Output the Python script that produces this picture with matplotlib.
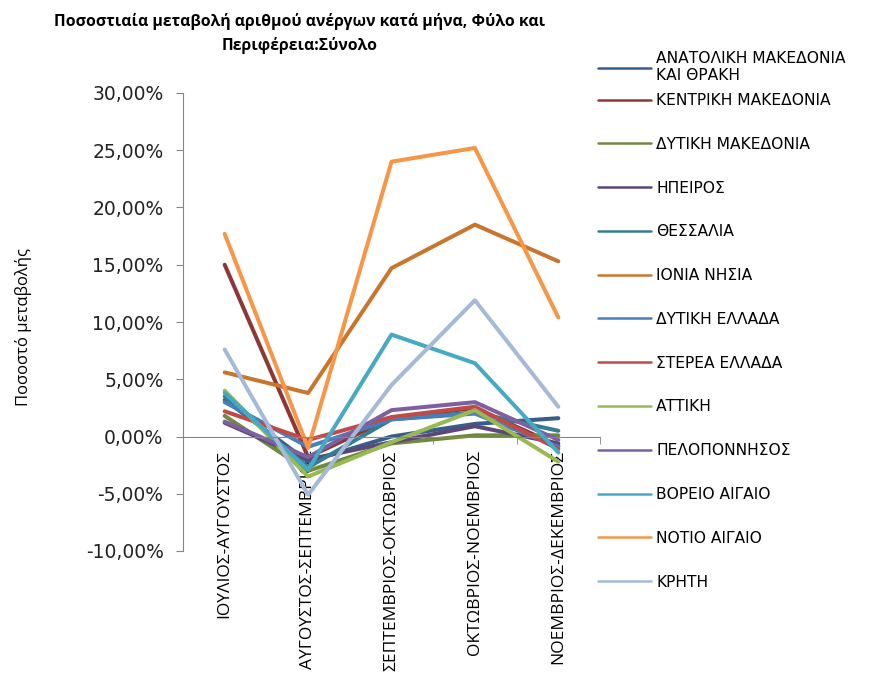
import matplotlib
matplotlib.use("Agg")
import matplotlib.pyplot as plt
from matplotlib.ticker import FuncFormatter, FixedLocator

categories = ["ΙΟΥΛΙΟΣ-ΑΥΓΟΥΣΤΟΣ", "ΑΥΓΟΥΣΤΟΣ-ΣΕΠΤΕΜΒΡΙΟΣ", "ΣΕΠΤΕΜΒΡΙΟΣ-ΟΚΤΩΒΡΙΟΣ",
              "ΟΚΤΩΒΡΙΟΣ-ΝΟΕΜΒΡΙΟΣ", "ΝΟΕΜΒΡΙΟΣ-ΔΕΚΕΜΒΡΙΟΣ"]

anatoliki_makedonia = [3.2, -2.2, 0.0, 1.1, 1.6]
kentriki_makedonia = [15.0, -1.8, 1.6, 2.5, -0.8]
dytiki_makedonia = [1.8, -3.0, -0.6, 0.1, 0.1]
ipeiros = [1.2, -2.0, -0.5, 0.9, -0.6]
thessalia = [3.5, -2.7, 1.5, 2.1, 0.5]
ionia_nisia = [5.6, 3.8, 14.7, 18.5, 15.3]
dytiki_ellada = [3.0, -0.9, 1.5, 2.0, -0.9]
sterea_ellada = [2.2, -0.3, 1.7, 2.6, -1.1]
attiki = [4.0, -3.5, -0.5, 2.3, -2.2]
peloponnisos = [1.3, -1.8, 2.3, 3.0, -0.3]
voreio_aigaio = [3.8, -2.9, 8.9, 6.4, -1.4]
notio_aigaio = [17.7, -1.0, 24.0, 25.2, 10.4]
kriti = [7.6, -5.1, 4.5, 11.9, 2.6]

series_names = ["ΑΝΑΤΟΛΙΚΗ ΜΑΚΕΔΟΝΙΑ\nΚΑΙ ΘΡΑΚΗ", "ΚΕΝΤΡΙΚΗ ΜΑΚΕΔΟΝΙΑ", "ΔΥΤΙΚΗ ΜΑΚΕΔΟΝΙΑ",
                "ΗΠΕΙΡΟΣ", "ΘΕΣΣΑΛΙΑ", "ΙΟΝΙΑ ΝΗΣΙΑ", "ΔΥΤΙΚΗ ΕΛΛΑΔΑ", "ΣΤΕΡΕΑ ΕΛΛΑΔΑ",
                "ΑΤΤΙΚΗ", "ΠΕΛΟΠΟΝΝΗΣΟΣ", "ΒΟΡΕΙΟ ΑΙΓΑΙΟ", "ΝΟΤΙΟ ΑΙΓΑΙΟ", "ΚΡΗΤΗ"]
series_values = [anatoliki_makedonia, kentriki_makedonia, dytiki_makedonia, ipeiros,
                 thessalia, ionia_nisia, dytiki_ellada, sterea_ellada, attiki,
                 peloponnisos, voreio_aigaio, notio_aigaio, kriti]
colors = ["#385D8A", "#8C3836", "#71893F", "#5C4776", "#357D91", "#C8762E",
          "#4A7EBB", "#BE4B48", "#98B954", "#7D60A0", "#46AAC5", "#F79646", "#A5B9D9"]

plt.rcParams['font.family'] = ['Open Sans', 'DejaVu Sans']

fig = plt.figure(figsize=(8.81, 6.79), dpi=100)
ax = fig.add_axes([183/881, 1-551/679, (600-183)/881, (551-93)/679])

x = list(range(len(categories)))
handles = []
for name, vals, c in zip(series_names, series_values, colors):
    h, = ax.plot(x, vals, color=c, lw=2.9, label=name, solid_capstyle='round', solid_joinstyle='round')
    handles.append(h)

ax.set_xlim(-0.5, len(categories) - 0.5)
ax.set_ylim(-10, 30)
ax.set_yticks([-10, -5, 0, 5, 10, 15, 20, 25, 30])
ax.yaxis.set_major_formatter(FuncFormatter(lambda v, p: f"{v:.2f}%".replace('.', ',')))
ax.tick_params(axis='y', length=5, color='#868686', pad=9)
for lab in ax.get_yticklabels():
    lab.set_fontfamily('DejaVu Sans')
    lab.set_fontsize(13.5)
    lab.set_color('#222222')

for s in ['top', 'right']:
    ax.spines[s].set_visible(False)
ax.spines['left'].set_color('#868686')
ax.spines['bottom'].set_position(('data', 0))
ax.spines['bottom'].set_color('#868686')

ax.set_xticks(x)
ax.set_xticklabels(categories, rotation=90, fontsize=12.5, ha='center', va='top')
ax.xaxis.set_minor_locator(FixedLocator([i + 0.5 for i in x]))
ax.tick_params(axis='x', which='major', length=0, pad=10)
ax.tick_params(axis='x', which='minor', length=5, color='#868686', direction='out')

ax.set_ylabel("Ποσοστό μεταβολής", fontsize=12)
ax.yaxis.set_label_coords(-0.362, 0.49)

fig.text(300/881, 1-22/679, "Ποσοστιαία μεταβολή αριθμού ανέργων κατά μήνα, Φύλο και",
         ha='center', va='center', fontsize=11.3, fontweight='bold')
fig.text(300/881, 1-45/679, "Περιφέρεια:Σύνολο",
         ha='center', va='center', fontsize=11.3, fontweight='bold')

leg_kw = dict(loc='upper left', bbox_transform=fig.transFigure, frameon=False,
              prop={'family': 'DejaVu Sans', 'size': 11.2},
              handlelength=3.4, handletextpad=0.35, borderpad=0, borderaxespad=0,
              labelspacing=1.85)
leg1 = ax.legend(handles[:1], series_names[:1], bbox_to_anchor=(598/881, 1-51/679), **leg_kw)
ax.add_artist(leg1)
leg2 = ax.legend(handles[1:], series_names[1:], bbox_to_anchor=(598/881, 1-93/679), **leg_kw)
for lg in (leg1, leg2):
    for line in lg.get_lines():
        line.set_linewidth(1.8)

fig.savefig("out.png", dpi=100)
